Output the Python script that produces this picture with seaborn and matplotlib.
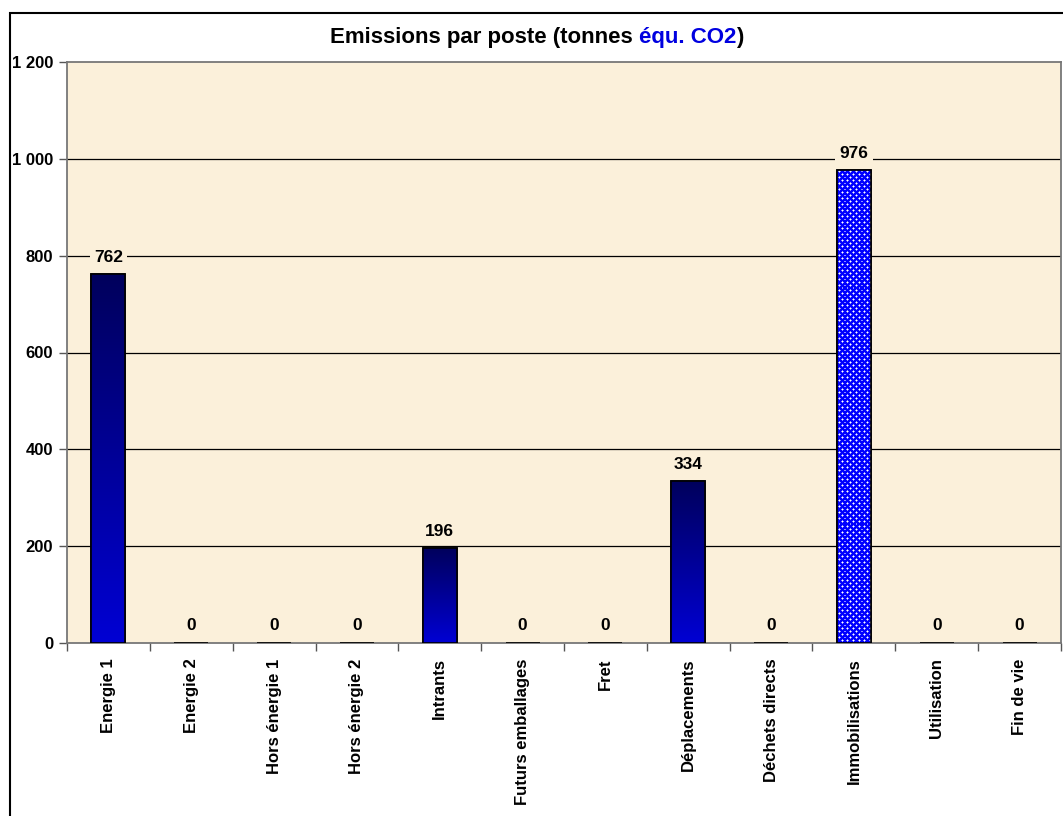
import numpy as np
import matplotlib
matplotlib.use("Agg")
import matplotlib.pyplot as plt
import matplotlib.patches as mpatches
import seaborn as sns

categories = ["Energie 1", "Energie 2", "Hors énergie 1", "Hors énergie 2", "Intrants",
              "Futurs emballages", "Fret", "Déplacements", "Déchets directs",
              "Immobilisations", "Utilisation", "Fin de vie"]
values = [762, 0, 0, 0, 196, 0, 0, 334, 0, 976, 0, 0]
y_ticks = [0, 200, 400, 600, 800, 1000, 1200]
y_tick_labels = ["0", "200", "400", "600", "800", "1 000", "1 200"]
dotted_category = "Immobilisations"

BG = "#FBF0DA"
W, H = 1063, 816
sns.set_theme(style="white")
plt.rcParams["font.family"] = ["Liberation Sans", "DejaVu Sans"]
plt.rcParams["font.weight"] = "bold"

fig = plt.figure(figsize=(W / 100, H / 100), dpi=100)
fig.patch.set_facecolor("white")
ax = fig.add_axes([67 / W, 1 - 643 / H, (1061 - 67) / W, (643 - 62) / H])
ax.set_facecolor(BG)

sns.barplot(x=categories, y=values, ax=ax, width=0.41, color="#0000CC",
            edgecolor="black", linewidth=1.2, saturation=1, zorder=3)

ax.set_ylim(0, 1200)
ax.set_xlim(-0.5, len(categories) - 0.5)
ax.set_yticks(y_ticks)
ax.set_yticklabels(y_tick_labels, fontsize=12, fontweight="bold")
ax.set_xticks(range(len(categories)))
ax.set_xticklabels(categories, rotation=90, fontsize=12, fontweight="bold", va="top")
for lab in ax.get_xticklabels() + ax.get_yticklabels():
    lab.set_fontweight("bold")
    lab.set_color("black")
ax.set_xticks(np.arange(-0.5, len(categories) + 0.5, 1), minor=True)
ax.tick_params(axis="x", which="major", length=0, pad=11)
ax.tick_params(axis="x", which="minor", length=6, width=1, color="#555555", direction="out", bottom=True)
ax.tick_params(axis="y", which="major", length=6, width=1, color="#555555", direction="out", left=True, pad=4)
ax.set_xlabel("")
ax.set_ylabel("")

for y in y_ticks[1:-1]:
    ax.axhline(y, color="black", linewidth=0.9, zorder=1)

for side, sp in ax.spines.items():
    sp.set_visible(True)
    sp.set_color("#777777")
    sp.set_linewidth(1.3)

fig.canvas.draw()

# vertical gradient fill: dark navy at the top, bright blue at the bottom
grad = np.linspace(0, 1, 256).reshape(-1, 1)
cmap = matplotlib.colors.LinearSegmentedColormap.from_list("navyblue", ["#00005C", "#0000D4"])

for patch, cat, val in zip(ax.patches, categories, values):
    if val <= 0:
        continue
    x0 = patch.get_x()
    w = patch.get_width()
    if cat == dotted_category:
        # staggered white-dot texture on bright blue, built at pixel scale
        bb = patch.get_window_extent()
        pw, ph = int(round(bb.width)) + 2, int(round(bb.height)) + 2
        tex = np.zeros((ph, pw, 3))
        tex[:] = (0.0, 0.0, 1.0)
        rr, cc = np.mgrid[0:ph, 0:pw]
        centers = ((rr % 6 == 1) & (cc % 6 == 2)) | ((rr % 6 == 4) & (cc % 6 == 5))
        halo = np.zeros_like(centers)
        halo[1:, :] |= centers[:-1, :]
        halo[:-1, :] |= centers[1:, :]
        halo[:, 1:] |= centers[:, :-1]
        halo[:, :-1] |= centers[:, 1:]
        tex[halo & ~centers] = (0.55, 0.55, 1.0)
        tex[centers] = (1.0, 1.0, 1.0)
        im = ax.imshow(tex, extent=(x0, x0 + w, 0, val), aspect="auto",
                       interpolation="nearest", zorder=3.2, origin="upper")
    else:
        im = ax.imshow(grad, extent=(x0, x0 + w, 0, val), cmap=cmap, aspect="auto",
                       zorder=3.2, origin="upper")
    im.set_clip_path(patch)
    border = mpatches.Rectangle((x0, 0), w, val, facecolor="none", edgecolor="black",
                                linewidth=1.2, zorder=4)
    ax.add_patch(border)

ax.set_xlim(-0.5, len(categories) - 0.5)
ax.set_ylim(0, 1200)

# value labels above each bar
for i, val in enumerate(values):
    ax.annotate(f"{val}", xy=(i, val), xytext=(0, 17), textcoords="offset pixels",
                ha="center", va="center", fontsize=12.5, fontweight="bold", color="black",
                bbox=dict(boxstyle="square,pad=0.25", facecolor=BG, edgecolor="none"),
                zorder=5)

# outer frame of the chart
fig.add_artist(mpatches.Rectangle((10 / W, -0.2), 2.0, 1.2 - 13 / H,
                                  transform=fig.transFigure, facecolor="none",
                                  edgecolor="black", linewidth=1.5, clip_on=False))

# title in three colored pieces
pieces = [("Emissions par poste (tonnes ", "black"), ("équ. CO2", "#0000E0"), (")", "black")]
renderer = fig.canvas.get_renderer()
texts = []
for s, c in pieces:
    t = fig.text(0, 1 - 38 / H, s, fontsize=16, fontweight="bold", color=c,
                 ha="left", va="center")
    texts.append(t)
widths = [t.get_window_extent(renderer).width for t in texts]
total = sum(widths)
x = 537 - total / 2
for t, w in zip(texts, widths):
    t.set_x(x / W)
    x += w

fig.savefig("out.png", dpi=100)
